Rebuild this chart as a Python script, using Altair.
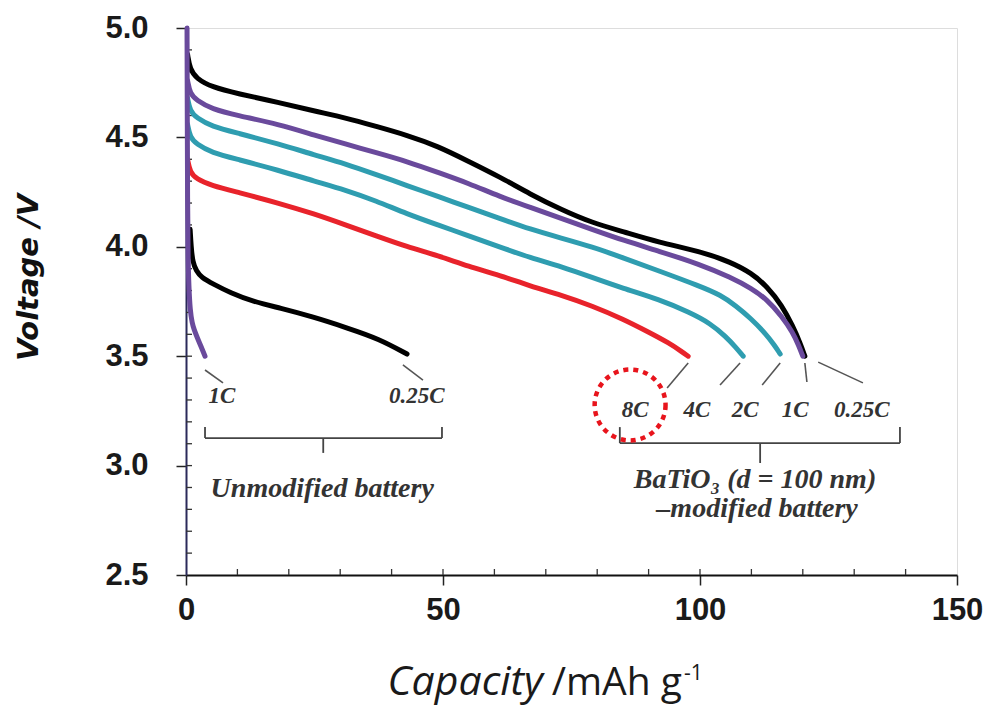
import altair as alt
import pandas as pd

# ---------------- data ----------------
# BaTiO3-modified battery, capacity (mAh/g) and voltage (V)
mod_025C_x = [0.3, 0.8, 2, 5, 10, 18, 25, 31, 37, 43, 49, 55, 61, 67, 73, 79, 85, 92, 100, 106, 110, 113, 116, 118, 119.5, 120.4]
mod_025C_y = [4.88, 4.81, 4.77, 4.73, 4.70, 4.66, 4.62, 4.59, 4.55, 4.51, 4.46, 4.39, 4.32, 4.24, 4.17, 4.11, 4.07, 4.02, 3.98, 3.93, 3.88, 3.82, 3.73, 3.64, 3.56, 3.50]

mod_1C_x = [0.3, 0.8, 2, 5, 10, 18, 25, 31, 37, 43, 49, 55, 61, 67, 73, 79, 85, 92, 100, 106, 110, 113, 116, 118, 119.2, 120.0]
mod_1C_y = [4.76, 4.70, 4.67, 4.63, 4.60, 4.56, 4.51, 4.47, 4.43, 4.39, 4.34, 4.29, 4.23, 4.18, 4.13, 4.08, 4.03, 3.98, 3.92, 3.86, 3.81, 3.76, 3.68, 3.61, 3.55, 3.50]

mod_2C_x = [0.3, 0.8, 2, 5, 10, 18, 25, 31, 37, 43, 49, 55, 61, 67, 73, 79, 85, 92, 100, 104, 107, 110, 112.5, 114.5, 115.6]
mod_2C_y = [4.68, 4.62, 4.59, 4.55, 4.52, 4.47, 4.42, 4.38, 4.33, 4.28, 4.23, 4.18, 4.13, 4.08, 4.04, 4.00, 3.95, 3.89, 3.82, 3.78, 3.73, 3.67, 3.61, 3.55, 3.51]

mod_4C_x = [0.3, 0.8, 2, 5, 10, 18, 25, 31, 37, 43, 49, 55, 61, 67, 73, 79, 85, 92, 98, 102, 105, 107, 108.4]
mod_4C_y = [4.56, 4.50, 4.47, 4.43, 4.40, 4.35, 4.30, 4.26, 4.21, 4.15, 4.10, 4.05, 4.00, 3.95, 3.91, 3.86, 3.81, 3.76, 3.70, 3.65, 3.59, 3.54, 3.50]

mod_8C_x = [0.3, 0.8, 2, 5, 10, 18, 25, 31, 37, 43, 49, 55, 61, 67, 73, 79, 85, 90, 94, 96.5, 97.7]
mod_8C_y = [4.40, 4.34, 4.31, 4.28, 4.25, 4.20, 4.15, 4.10, 4.05, 4.00, 3.96, 3.91, 3.87, 3.82, 3.78, 3.73, 3.67, 3.61, 3.56, 3.52, 3.50]

# Unmodified battery
unmod_025C_x = [0.8, 1.0, 1.3, 2.0, 3.0, 5.3, 8.6, 13.0, 18.3, 24.7, 31.3, 37.5, 43.0]
unmod_025C_y = [4.08, 4.00, 3.93, 3.89, 3.86, 3.83, 3.79, 3.75, 3.72, 3.68, 3.63, 3.58, 3.51]

unmod_1C_x = [0.2, 0.25, 0.3, 0.4, 0.55, 0.8, 1.2, 1.6, 2.1, 3.0, 3.7]
unmod_1C_y = [5.00, 4.60, 4.20, 3.95, 3.82, 3.71, 3.65, 3.62, 3.59, 3.54, 3.50]

# axis ticks
x_major = [0, 50, 100, 150]
y_major = [2.5, 3.0, 3.5, 4.0, 4.5, 5.0]
x_inner_ticks = [10, 20, 30, 40, 50, 60, 70, 80, 90, 100, 110, 120, 130, 140]
y_inner_ticks = [2.6, 2.7, 2.8, 2.9, 3.0, 3.1, 3.2, 3.3, 3.4, 3.5, 3.6, 3.7, 3.8, 3.9,
                 4.0, 4.1, 4.2, 4.3, 4.4, 4.5, 4.6, 4.7, 4.8, 4.9]

# annotation texts (data coordinates)
rate_labels = ["1C", "0.25C", "8C", "4C", "2C", "1C", "0.25C"]
rate_label_x = [7.0, 44.9, 87.4, 99.4, 108.8, 118.5, 131.5]
rate_label_y = [3.318, 3.318, 3.254, 3.254, 3.254, 3.254, 3.254]

group_labels = ["Unmodified battery", "BaTiO\u2083 (d = 100 nm)", "\u2013modified  battery"]
group_label_x = [26.5, 110.7, 111.1]
group_label_y = [2.857, 2.898, 2.765]

# leader lines from curve ends to rate labels
leader_x1 = [3.7, 42.2, 97.7, 107.8, 115.6, 120.4, 123.0]
leader_y1 = [3.437, 3.460, 3.469, 3.469, 3.469, 3.469, 3.473]
leader_x2 = [7.2, 46.1, 93.6, 103.9, 112.1, 120.8, 131.7]
leader_y2 = [3.378, 3.391, 3.355, 3.368, 3.368, 3.382, 3.378]

# bracket segments
br_x1 = [3.7, 3.7, 49.8, 26.7, 84.4, 84.4, 138.9, 111.7]
br_y1 = [3.126, 3.126, 3.126, 3.126, 3.103, 3.103, 3.103, 3.103]
br_x2 = [49.8, 3.7, 49.8, 26.7, 138.9, 84.4, 138.9, 111.7]
br_y2 = [3.126, 3.176, 3.176, 3.058, 3.103, 3.176, 3.176, 3.012]

# highlighted label (red dotted circle)
circle_x = [86.4]
circle_y = [3.277]

# ---------------- chart ----------------
W, H = 771, 547

x_scale = alt.Scale(domain=[0, 150], nice=False, zero=False)
y_scale = alt.Scale(domain=[2.5, 5.0], nice=False, zero=False)

x_axis = alt.Axis(values=x_major, title=None, grid=False, tickSize=10, tickWidth=1.5,
                  tickColor="#222222", domainColor="#111111", domainWidth=2,
                  labelFont="Liberation Sans", labelFontWeight="bold", labelFontSize=31,
                  labelColor="#1a1a1a", labelPadding=10, labelFlush=False)
y_axis = alt.Axis(values=y_major, format=".1f", title="Voltage /V", grid=False,
                  tickSize=10, tickWidth=1.5, tickColor="#222222",
                  domainColor="#2b2a5a", domainWidth=2,
                  labelFont="Liberation Sans", labelFontWeight="bold", labelFontSize=31,
                  labelColor="#1a1a1a", labelPadding=28,
                  titleFont="DejaVu Sans", titleFontSize=29, titleFontWeight="bold",
                  titleFontStyle="italic", titleColor="#111111", titleAngle=270,
                  titleX=-149, titleY=249, titleAlign="center", titleBaseline="alphabetic")


def X(f):
    return alt.X(f, type="quantitative", scale=x_scale, axis=x_axis)


def Y(f):
    return alt.Y(f, type="quantitative", scale=y_scale, axis=y_axis)


curves = [
    (mod_025C_x, mod_025C_y, "#000000"),
    (mod_1C_x, mod_1C_y, "#6a4a9c"),
    (mod_2C_x, mod_2C_y, "#2f9db0"),
    (mod_4C_x, mod_4C_y, "#2f9db0"),
    (mod_8C_x, mod_8C_y, "#e8232b"),
    (unmod_025C_x, unmod_025C_y, "#000000"),
    (unmod_1C_x, unmod_1C_y, "#6a4a9c"),
]

layers = []

# inner (minor) ticks
layers.append(
    alt.Chart(pd.DataFrame({"x": x_inner_ticks})).mark_rule(color="#333333", strokeWidth=1.3)
    .encode(x=X("x"), y=alt.value(H), y2=alt.value(H - 6))
)
layers.append(
    alt.Chart(pd.DataFrame({"y": y_inner_ticks})).mark_rule(color="#333333", strokeWidth=1.3)
    .encode(y=Y("y"), x=alt.value(0), x2=alt.value(6))
)

for cx, cy, col in curves:
    df = pd.DataFrame({"x": cx, "y": cy, "o": list(range(len(cx)))})
    layers.append(
        alt.Chart(df).mark_line(color=col, strokeWidth=5, interpolate="basis",
                                strokeCap="round", strokeJoin="round")
        .encode(x=X("x"), y=Y("y"), order="o:Q")
    )

# leader lines
leader_df = pd.DataFrame({"x": leader_x1, "y": leader_y1, "x2": leader_x2, "y2": leader_y2})
layers.append(
    alt.Chart(leader_df).mark_rule(color="#555555", strokeWidth=1.6)
    .encode(x=X("x"), y=Y("y"), x2="x2:Q", y2="y2:Q")
)

# brackets
br_df = pd.DataFrame({"x": br_x1, "y": br_y1, "x2": br_x2, "y2": br_y2})
layers.append(
    alt.Chart(br_df).mark_rule(color="#444444", strokeWidth=1.8)
    .encode(x=X("x"), y=Y("y"), x2="x2:Q", y2="y2:Q")
)

# rate labels
rl_df = pd.DataFrame({"x": rate_label_x, "y": rate_label_y, "t": rate_labels})
layers.append(
    alt.Chart(rl_df).mark_text(font="Liberation Serif", fontStyle="italic", fontWeight="bold",
                               fontSize=23, color="#333333", align="center", baseline="middle")
    .encode(x=X("x"), y=Y("y"), text="t:N")
)

# group labels
gl_df = pd.DataFrame({"x": group_label_x, "y": group_label_y, "t": group_labels})
layers.append(
    alt.Chart(gl_df).mark_text(font="Liberation Serif", fontStyle="italic", fontWeight="bold",
                               fontSize=28, color="#333333", align="center", baseline="alphabetic")
    .encode(x=X("x"), y=Y("y"), text="t:N")
)

# red dotted circle
circ_df = pd.DataFrame({"x": circle_x, "y": circle_y})
layers.append(
    alt.Chart(circ_df).mark_point(shape="circle", filled=False, size=5027, color="#e8141c",
                                  strokeWidth=4.5, strokeDash=[5, 5], opacity=1)
    .encode(x=X("x"), y=Y("y"))
)

# x-axis title pieces (Capacity in italics, unit with superscript)
layers.append(
    alt.Chart(pd.DataFrame({"t": ["Capacity"]})).mark_text(
        font="Open Sans", fontStyle="italic", fontSize=41, color="#1a1a1a",
        align="right", baseline="alphabetic")
    .encode(x=alt.value(357), y=alt.value(667), text="t:N")
)
layers.append(
    alt.Chart(pd.DataFrame({"t": ["/mAh g"]})).mark_text(
        font="Open Sans", fontSize=39, color="#1a1a1a", align="right", baseline="alphabetic")
    .encode(x=alt.value(496), y=alt.value(667), text="t:N")
)
layers.append(
    alt.Chart(pd.DataFrame({"t": ["-1"]})).mark_text(
        font="Open Sans", fontSize=21, color="#1a1a1a", align="left", baseline="alphabetic")
    .encode(x=alt.value(498), y=alt.value(652), text="t:N")
)

chart = alt.layer(*layers).properties(
    width=W, height=H,
    padding={"left": 186, "top": 28, "right": 26, "bottom": 133},
    autosize=alt.AutoSizeParams(type="none"),
).configure_view(stroke="#111111", strokeWidth=2.5).configure(background="white")

chart.save("out.html", embed_options={"renderer": "svg", "actions": False})
